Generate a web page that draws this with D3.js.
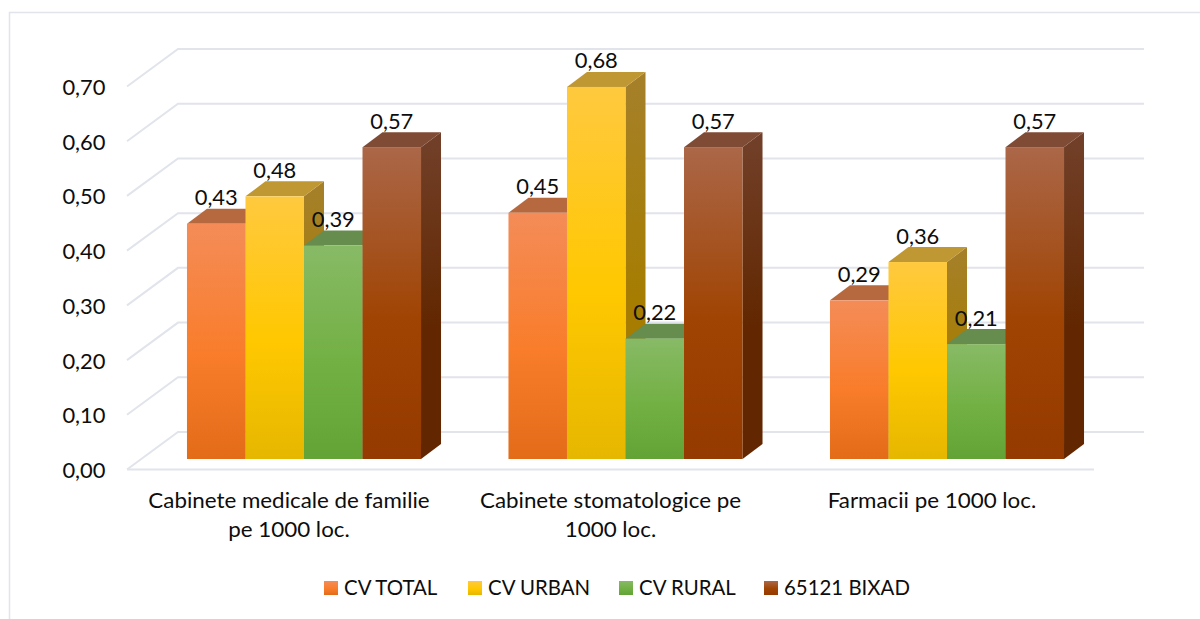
<!DOCTYPE html>
<html><head><meta charset="utf-8">
<script src="https://cdnjs.cloudflare.com/ajax/libs/d3/7.8.5/d3.min.js"></script>
<style>html,body{margin:0;padding:0;background:#fff}svg{display:block}text{font-family:Lato,"Open Sans",sans-serif;fill:#0d0d0d}</style>
</head><body><svg id="c" width="1200" height="619"></svg>
<script>
const categories=[["Cabinete medicale de familie","pe 1000 loc."],["Cabinete stomatologice pe","1000 loc."],["Farmacii pe 1000 loc."]];
const seriesNames=["CV TOTAL","CV URBAN","CV RURAL","65121 BIXAD"];
const cvTotal=[0.43,0.45,0.29];
const cvUrban=[0.48,0.68,0.36];
const cvRural=[0.39,0.22,0.21];
const bixad=[0.57,0.57,0.57];
const seriesValues=[cvTotal,cvUrban,cvRural,bixad];
const tickValues=[0,0.1,0.2,0.3,0.4,0.5,0.6,0.7];
const faceStops=[["#F48C58","#F97D2B","#E36C19"],["#FFC93F","#FFC800","#E6B700"],["#88BA66","#72B043","#63A335"],["#AB6748","#A04403","#953A00"]];
const topColors=["#B6693F","#BF9733","#668C4E","#7F4B35"];
const sideStops=[["#A85F33","#A04F12"],["#A5802A","#A67D00"],["#5F8A40","#4A7A28"],["#72402A","#622700"]];
const gridColor="#E1E4EB";

const svg=d3.select("#c");
const defs=svg.append("defs");
const fmt=v=>v.toFixed(2).replace(".",",");
const depthX=20,depthY=15,wallX=51,wallY=37.5,barFloorY=10.5,labelShift=-15;
const y=d3.scaleLinear().domain([0,0.7]).range([469.5,86.5]);
const x0=d3.scaleBand().domain(d3.range(categories.length)).range([143.25,1107.75]).paddingInner(0.272).paddingOuter(0.136);
const x1=d3.scaleBand().domain(d3.range(seriesNames.length)).range([0,x0.bandwidth()]);

function label(str,px,py,anchor,sx){
  svg.append("text").attr("transform",`translate(${px},${py}) scale(${sx},1)`).attr("text-anchor",anchor).attr("font-size",21.5).text(str);
}

faceStops.forEach((s,i)=>{
  const g=defs.append("linearGradient").attr("id","f"+i).attr("x1",0).attr("y1",0).attr("x2",0).attr("y2",1);
  s.forEach((c,j)=>g.append("stop").attr("offset",[0,.55,1][j]).attr("stop-color",c));
  const h=defs.append("linearGradient").attr("id","s"+i).attr("x1",0).attr("y1",0).attr("x2",0).attr("y2",1);
  sideStops[i].forEach((c,j)=>h.append("stop").attr("offset",[0,.6][j]).attr("stop-color",c));
});

// chart frame
svg.append("path").attr("d","M9.5,619V12.5H1200").attr("fill","none").attr("stroke",gridColor).attr("stroke-width",1.5);

// walls and floor
const grid=svg.append("g").attr("fill","none").attr("stroke",gridColor).attr("stroke-width",2);
tickValues.forEach(t=>{
  grid.append("path").attr("d",`M127,${y(t)}L${127+wallX},${y(t)-wallY}H1144`);
});
grid.append("line").attr("x1",127).attr("x2",1094).attr("y1",y(0)).attr("y2",y(0));

// y tick labels
tickValues.forEach(t=>label(fmt(t),105.5,y(t)+8.5,"end",1.02));

// bars
const base=y(0)-barFloorY;
categories.forEach((c,ci)=>{
  const g=svg.append("g").attr("transform",`translate(${x0(ci)},0)`);
  seriesNames.forEach((n,si)=>{
    const v=seriesValues[si][ci];
    const l=x1(si),w=x1.bandwidth(),t=y(v)-barFloorY;
    g.append("path").attr("d",`M${l+w},${t}l${depthX},${-depthY}V${base-depthY}l${-depthX},${depthY}Z`).attr("fill",`url(#s${si})`);
    g.append("path").attr("d",`M${l},${t}l${depthX},${-depthY}h${w}l${-depthX},${depthY}Z`).attr("fill",topColors[si]);
    g.append("rect").attr("x",l).attr("y",t).attr("width",w).attr("height",base-t).attr("fill",`url(#f${si})`);
  });
});
// data labels
categories.forEach((c,ci)=>{
  seriesNames.forEach((n,si)=>{
    const v=seriesValues[si][ci];
    label(fmt(v),x0(ci)+x1(si)+x1.bandwidth()/2,y(v)-barFloorY-18.5,"middle",1.02);
  });
});
// category labels
categories.forEach((c,ci)=>{
  c.forEach((line,li)=>label(line,x0(ci)+x0.bandwidth()/2+labelShift,508+li*29,"middle",1.04));
});
// legend
const legendX=[324,468,619,764];
seriesNames.forEach((n,i)=>{
  svg.append("rect").attr("x",legendX[i]).attr("y",581).attr("width",14).attr("height",14).attr("fill",`url(#f${i})`);
  label(n,legendX[i]+20,595,"start",0.95);
});
</script></body></html>
